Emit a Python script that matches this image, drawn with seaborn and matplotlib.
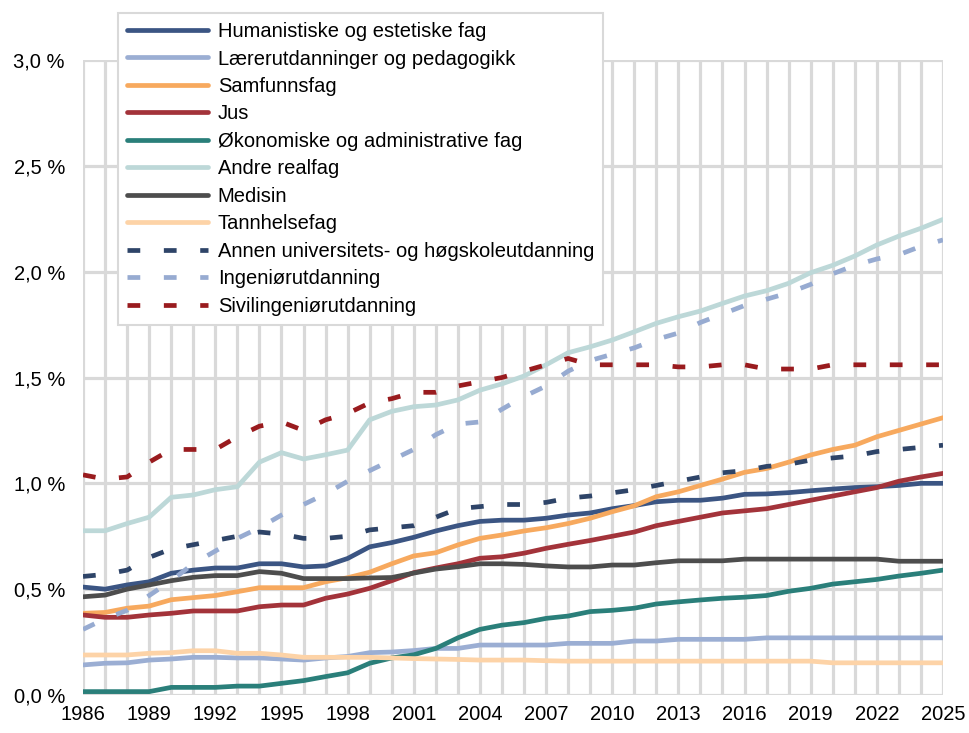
import matplotlib
matplotlib.use("Agg")
import matplotlib.pyplot as plt
import matplotlib.ticker as mticker
import pandas as pd
import seaborn as sns

# % Data (share in percent)
years = list(range(1986, 2026))

series_names = [
    "Humanistiske og estetiske fag",
    "Lærerutdanninger og pedagogikk",
    "Samfunnsfag",
    "Jus",
    "Økonomiske og administrative fag",
    "Andre realfag",
    "Medisin",
    "Tannhelsefag",
    "Annen universitets- og høgskoleutdanning",
    "Ingeniørutdanning",
    "Sivilingeniørutdanning",
]

humanistiske = [0.51, 0.50, 0.52, 0.535, 0.575, 0.59, 0.60, 0.60, 0.62, 0.62,
                0.605, 0.61, 0.645, 0.70, 0.72, 0.745, 0.775, 0.80, 0.82, 0.826,
                0.826, 0.835, 0.85, 0.86, 0.88, 0.895, 0.913, 0.92, 0.92, 0.93,
                0.948, 0.95, 0.956, 0.965, 0.973, 0.98, 0.984, 0.99, 1.00, 1.00]
laerer = [0.142, 0.15, 0.152, 0.165, 0.17, 0.178, 0.178, 0.175, 0.175, 0.17,
          0.165, 0.175, 0.182, 0.20, 0.203, 0.21, 0.22, 0.22, 0.236, 0.236,
          0.236, 0.236, 0.244, 0.244, 0.244, 0.255, 0.255, 0.263, 0.263, 0.263,
          0.263, 0.27, 0.27, 0.27, 0.27, 0.27, 0.27, 0.27, 0.27, 0.27]
samfunnsfag = [0.386, 0.39, 0.41, 0.42, 0.45, 0.46, 0.47, 0.488, 0.507, 0.507,
               0.507, 0.535, 0.554, 0.58, 0.62, 0.657, 0.672, 0.709, 0.74, 0.756,
               0.775, 0.79, 0.81, 0.835, 0.866, 0.894, 0.937, 0.96, 0.99, 1.02,
               1.052, 1.07, 1.10, 1.134, 1.16, 1.18, 1.22, 1.25, 1.28, 1.31]
jus = [0.378, 0.367, 0.367, 0.378, 0.386, 0.397, 0.397, 0.397, 0.417, 0.425,
       0.425, 0.457, 0.477, 0.504, 0.54, 0.578, 0.60, 0.62, 0.646, 0.653,
       0.67, 0.693, 0.712, 0.73, 0.75, 0.77, 0.80, 0.82, 0.84, 0.86,
       0.87, 0.88, 0.90, 0.92, 0.94, 0.96, 0.98, 1.01, 1.03, 1.047]
okonomiske = [0.016, 0.016, 0.016, 0.016, 0.036, 0.036, 0.036, 0.042, 0.042, 0.055,
              0.068, 0.087, 0.105, 0.15, 0.175, 0.19, 0.22, 0.27, 0.31, 0.33,
              0.342, 0.362, 0.373, 0.394, 0.40, 0.41, 0.43, 0.44, 0.449, 0.457,
              0.462, 0.47, 0.49, 0.504, 0.524, 0.535, 0.546, 0.562, 0.575, 0.59]
andre_realfag = [0.776, 0.776, 0.81, 0.84, 0.934, 0.945, 0.97, 0.984, 1.10, 1.145,
                 1.115, 1.135, 1.157, 1.30, 1.34, 1.362, 1.37, 1.394, 1.44, 1.47,
                 1.507, 1.56, 1.617, 1.645, 1.677, 1.716, 1.756, 1.787, 1.814, 1.85,
                 1.885, 1.91, 1.945, 1.995, 2.03, 2.074, 2.126, 2.168, 2.205, 2.247]
medisin = [0.464, 0.472, 0.50, 0.52, 0.54, 0.556, 0.564, 0.564, 0.583, 0.575,
           0.55, 0.55, 0.55, 0.553, 0.555, 0.576, 0.595, 0.606, 0.62, 0.62,
           0.617, 0.61, 0.605, 0.605, 0.614, 0.614, 0.625, 0.634, 0.634, 0.634,
           0.642, 0.642, 0.642, 0.642, 0.642, 0.642, 0.642, 0.632, 0.632, 0.632]
tannhelse = [0.189, 0.189, 0.189, 0.197, 0.20, 0.209, 0.209, 0.197, 0.197, 0.189,
             0.178, 0.178, 0.178, 0.178, 0.175, 0.172, 0.17, 0.168, 0.165, 0.165,
             0.165, 0.162, 0.16, 0.16, 0.16, 0.16, 0.16, 0.16, 0.16, 0.16,
             0.16, 0.16, 0.16, 0.16, 0.152, 0.152, 0.152, 0.152, 0.152, 0.152]
annen = [0.56, 0.57, 0.59, 0.65, 0.69, 0.71, 0.73, 0.75, 0.77, 0.76,
         0.74, 0.74, 0.75, 0.78, 0.79, 0.80, 0.84, 0.88, 0.89, 0.90,
         0.90, 0.91, 0.93, 0.94, 0.955, 0.97, 0.99, 1.01, 1.03, 1.05,
         1.06, 1.08, 1.09, 1.11, 1.12, 1.13, 1.15, 1.16, 1.17, 1.18]
ingenior = [0.31, 0.36, 0.40, 0.47, 0.54, 0.62, 0.68, 0.74, 0.79, 0.85,
            0.90, 0.95, 1.01, 1.06, 1.11, 1.16, 1.23, 1.28, 1.29, 1.35,
            1.41, 1.46, 1.53, 1.58, 1.61, 1.64, 1.68, 1.71, 1.76, 1.80,
            1.84, 1.87, 1.90, 1.94, 1.99, 2.03, 2.06, 2.08, 2.12, 2.15]
sivilingenior = [1.04, 1.02, 1.03, 1.10, 1.16, 1.16, 1.16, 1.22, 1.27, 1.29,
                 1.25, 1.30, 1.33, 1.38, 1.40, 1.43, 1.43, 1.46, 1.48, 1.50,
                 1.53, 1.56, 1.59, 1.56, 1.56, 1.56, 1.56, 1.55, 1.55, 1.56,
                 1.56, 1.54, 1.54, 1.54, 1.56, 1.56, 1.56, 1.56, 1.56, 1.56]

series_values = [humanistiske, laerer, samfunnsfag, jus, okonomiske, andre_realfag,
                 medisin, tannhelse, annen, ingenior, sivilingenior]

colors = ["#3B5583", "#9BAED3", "#F7A95E", "#A3333A", "#2A7F7A", "#BDD8D8",
          "#4D4D4D", "#FDD3A7", "#2E4468", "#97ABD1", "#991B1E"]
dashed = [False] * 8 + [True] * 3

# % Long-form table
df = pd.concat(
    [pd.DataFrame({"year": years, "value": vals, "series": name})
     for name, vals in zip(series_names, series_values)],
    ignore_index=True,
)

# % Plot
sns.set_style("white")
plt.rcParams["font.family"] = ["Liberation Sans", "DejaVu Sans"]
plt.rcParams["text.color"] = "black"
plt.rcParams["xtick.color"] = "black"
plt.rcParams["ytick.color"] = "black"

fig = plt.figure(figsize=(9.7, 7.33), dpi=100)
ax = fig.add_axes([83 / 970, 1 - 695 / 733, 860 / 970, 635 / 733])

palette = dict(zip(series_names, colors))
dash_map = {n: ((2.7, 5.0) if d else "") for n, d in zip(series_names, dashed)}

sns.lineplot(
    data=df, x="year", y="value",
    hue="series", style="series",
    hue_order=series_names, style_order=series_names,
    palette=palette, dashes=dash_map,
    linewidth=3.4, ax=ax, legend=True,
)

ax.set_xlim(1986, 2025)
ax.set_ylim(0, 3.0)
ax.set_xticks(years)
ax.set_xticklabels([str(y) if (y - 1986) % 3 == 0 else "" for y in years])
ax.yaxis.set_major_locator(mticker.MultipleLocator(0.5))
ax.yaxis.set_major_formatter(
    mticker.FuncFormatter(lambda v, p: f"{v:.1f} %".replace(".", ","))
)
ax.grid(True, color="#D9D9D9", linewidth=2.3)
ax.set_axisbelow(True)
for s in ax.spines.values():
    s.set_visible(False)
ax.tick_params(axis="x", length=0, pad=7, labelsize=14.5, labelcolor="black")
ax.tick_params(axis="y", length=0, pad=13, labelsize=14.5, labelcolor="black")
ax.set_xlabel("")
ax.set_ylabel("")

handles, labels = ax.get_legend_handles_labels()
leg = ax.legend(
    handles, labels,
    loc="upper left",
    bbox_to_anchor=(118 / 970, 1 - 13 / 733),
    bbox_transform=fig.transFigure,
    borderaxespad=0, fontsize=14.5, frameon=True, fancybox=False,
    framealpha=1, edgecolor="#D9D9D9", handlelength=4.0,
    handletextpad=0.5, labelspacing=0.42, borderpad=0.45,
    labelcolor="black",
)
leg.get_frame().set_linewidth(1.5)

plt.savefig("out.png", dpi=100)
